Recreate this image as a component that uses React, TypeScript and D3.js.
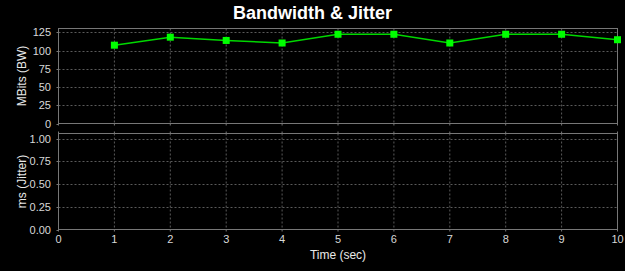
import React from "react";
import * as d3 from "d3";

const times = [1, 2, 3, 4, 5, 6, 7, 8, 9, 10];
const bandwidth = [107.5, 118.5, 114, 110.5, 122.5, 122.5, 110.5, 122.5, 122.5, 115];
const jitter: number[] = [];
const bwTicks = [0, 25, 50, 75, 100, 125];
const jitterTicks = [0, 0.25, 0.5, 0.75, 1.0];
const xTicks = [0, 1, 2, 3, 4, 5, 6, 7, 8, 9, 10];

const W = 625;
const H = 271;
const left = 58.5;
const right = 617.5;
const top1 = 28.5;
const bot1 = 123.5;
const top2 = 133.5;
const bot2 = 229.5;
const font = "'Liberation Sans', Arial, sans-serif";
const gridColor = "#5a5a5a";
const borderColor = "#777777";
const tickText = "#d8d8d8";

export default function App() {
  const x = d3.scaleLinear().domain([0, 10]).range([left, right]);
  const y1 = d3.scaleLinear().domain([0, 130.4]).range([bot1, top1]);
  const y2 = d3.scaleLinear().domain([0, 1.058]).range([bot2, top2]);
  const line = d3
    .line<number>()
    .x((_, i) => x(times[i]))
    .y((d) => y1(d));
  const fmt2 = d3.format(".2f");

  return (
    <div style={{ position: "absolute", left: 0, top: 0 }}>
      <svg width={W} height={H} style={{ display: "block", background: "#000" }}>
        <rect x={0} y={0} width={W} height={H} fill="#000" />
        <text x={312.5} y={19} textAnchor="middle" fill="#fff" fontFamily={font} fontWeight="bold" fontSize={18}>
          Bandwidth &amp; Jitter
        </text>
        {/* top panel */}
        <g>
          {xTicks.slice(1, -1).map((t) => (
            <line key={"gx1" + t} x1={x(t)} x2={x(t)} y1={top1} y2={bot1} stroke={gridColor} strokeDasharray="2,2" />
          ))}
          {bwTicks.slice(1).map((t) => (
            <line key={"gy1" + t} x1={left} x2={right} y1={Math.round(y1(t)) + 0.5} y2={Math.round(y1(t)) + 0.5} stroke={gridColor} strokeDasharray="2,2" />
          ))}
          <rect x={left} y={top1} width={right - left} height={bot1 - top1} fill="none" stroke={borderColor} />
          {bwTicks.map((t) => (
            <g key={"ty1" + t}>
              <line x1={left - 2} x2={left} y1={Math.round(y1(t)) + 0.5} y2={Math.round(y1(t)) + 0.5} stroke={borderColor} />
              <text x={51} y={y1(t) + 4} textAnchor="end" fill={tickText} fontFamily={font} fontSize={11}>
                {t}
              </text>
            </g>
          ))}
          {xTicks.map((t) => (
            <line key={"tx1" + t} x1={x(t)} x2={x(t)} y1={bot1} y2={bot1 + 2} stroke={borderColor} />
          ))}
          <path d={line(bandwidth) || ""} fill="none" stroke="#00d800" strokeWidth={1.5} />
          {bandwidth.map((v, i) => (
            <rect key={"m" + i} x={x(times[i]) - 3.5} y={y1(v) - 3.5} width={7} height={7} fill="#00ff00" />
          ))}
          <text transform={`translate(26,${(top1 + bot1) / 2}) rotate(-90)`} textAnchor="middle" fill="#e8e8e8" fontFamily={font} fontSize={12}>
            MBits (BW)
          </text>
        </g>
        {/* bottom panel */}
        <g>
          {xTicks.slice(1, -1).map((t) => (
            <line key={"gx2" + t} x1={x(t)} x2={x(t)} y1={top2} y2={bot2} stroke={gridColor} strokeDasharray="2,2" />
          ))}
          {jitterTicks.slice(1).map((t) => (
            <line key={"gy2" + t} x1={left} x2={right} y1={Math.round(y2(t)) + 0.5} y2={Math.round(y2(t)) + 0.5} stroke={gridColor} strokeDasharray="2,2" />
          ))}
          <rect x={left} y={top2} width={right - left} height={bot2 - top2} fill="none" stroke={borderColor} />
          {jitterTicks.map((t) => (
            <g key={"ty2" + t}>
              <line x1={left - 2} x2={left} y1={Math.round(y2(t)) + 0.5} y2={Math.round(y2(t)) + 0.5} stroke={borderColor} />
              <text x={51} y={y2(t) + 4} textAnchor="end" fill={tickText} fontFamily={font} fontSize={11}>
                {fmt2(t)}
              </text>
            </g>
          ))}
          {xTicks.map((t) => (
            <g key={"tx2" + t}>
              <line x1={x(t)} x2={x(t)} y1={top2 - 2} y2={top2} stroke={borderColor} />
              <line x1={x(t)} x2={x(t)} y1={bot2} y2={bot2 + 2} stroke={borderColor} />
              <text x={x(t)} y={243} textAnchor="middle" fill={tickText} fontFamily={font} fontSize={11}>
                {t}
              </text>
            </g>
          ))}
          {jitter.length > 0 && (
            <path
              d={d3.line<number>().x((_, i) => x(times[i])).y((d) => y2(d))(jitter) || ""}
              fill="none"
              stroke="#00d800"
            />
          )}
          <text transform={`translate(26,${(top2 + bot2) / 2}) rotate(-90)`} textAnchor="middle" fill="#e8e8e8" fontFamily={font} fontSize={12}>
            ms (Jitter)
          </text>
          <text x={(left + right) / 2} y={259} textAnchor="middle" fill="#e8e8e8" fontFamily={font} fontSize={12}>
            Time (sec)
          </text>
        </g>
      </svg>
    </div>
  );
}
